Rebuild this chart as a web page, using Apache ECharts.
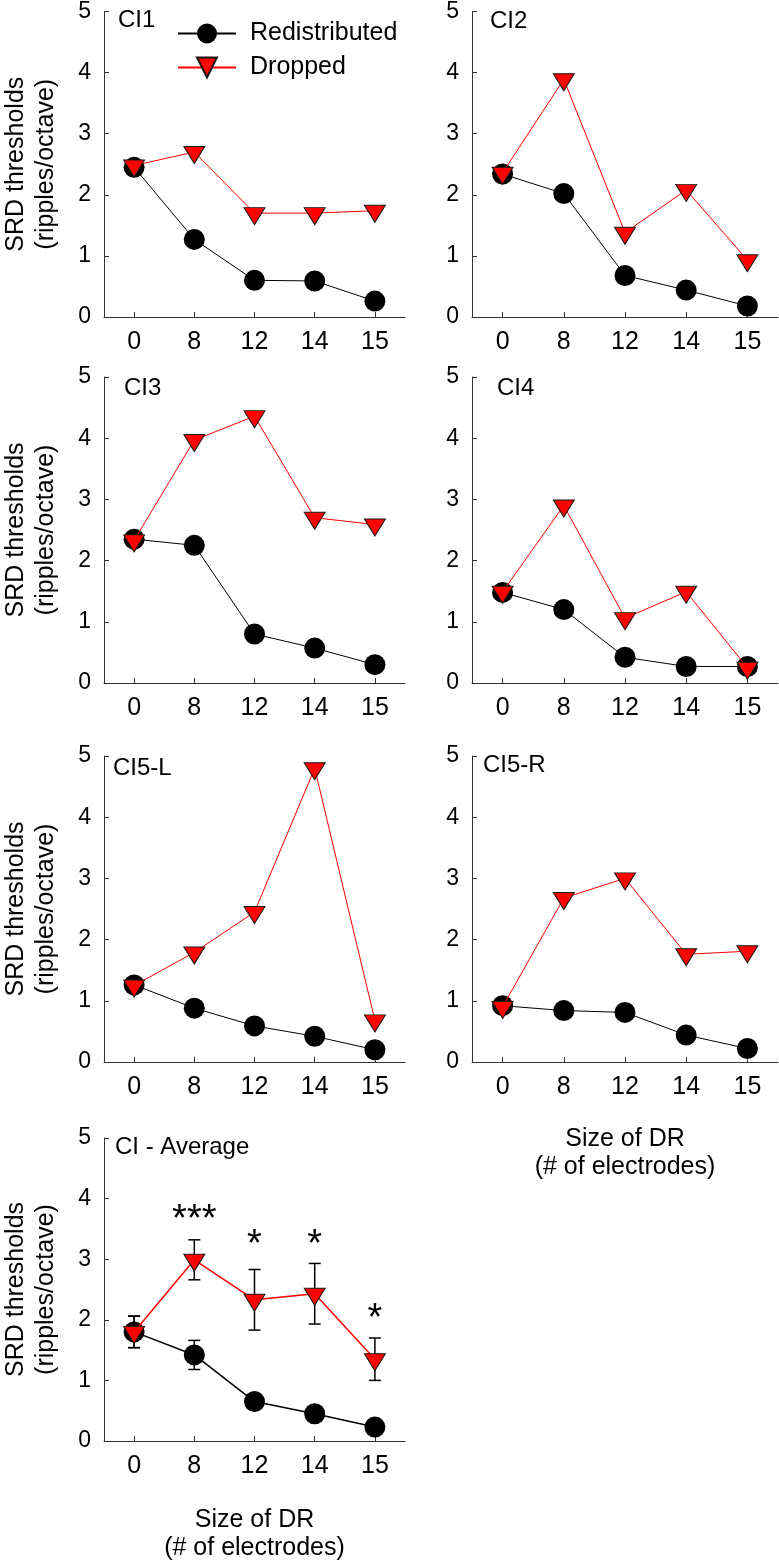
<!DOCTYPE html>
<html>
<head>
<meta charset="utf-8">
<script src="https://cdn.jsdelivr.net/npm/echarts@6/dist/echarts.min.js"></script>
<style>
html,body{margin:0;padding:0;background:#fff;}
#chart{width:779px;height:1563px;}
</style>
</head>
<body>
<div id="chart"></div>
<script>
// ---------- data ----------
const categories = ['0', '8', '12', '14', '15'];
const yTicks = [0, 1, 2, 3, 4, 5];

const panelTitles = ['CI1', 'CI2', 'CI3', 'CI4', 'CI5-L', 'CI5-R', 'CI - Average'];

const ci1Redistributed = [2.45, 1.27, 0.60, 0.59, 0.26];
const ci1Dropped       = [2.48, 2.70, 1.70, 1.70, 1.74];
const ci2Redistributed = [2.34, 2.02, 0.68, 0.44, 0.18];
const ci2Dropped       = [2.36, 3.89, 1.38, 2.08, 0.93];
const ci3Redistributed = [2.35, 2.25, 0.80, 0.57, 0.30];
const ci3Dropped       = [2.33, 3.97, 4.36, 2.70, 2.59];
const ci4Redistributed = [1.48, 1.20, 0.42, 0.27, 0.27];
const ci4Dropped       = [1.49, 2.90, 1.06, 1.49, 0.25];
const ci5LRedistributed = [1.26, 0.88, 0.59, 0.42, 0.20];
const ci5LDropped       = [1.25, 1.79, 2.45, 4.80, 0.68];
const ci5RRedistributed = [0.92, 0.84, 0.81, 0.44, 0.22];
const ci5RDropped       = [0.90, 2.68, 3.00, 1.76, 1.81];
const avgRedistributed    = [1.80, 1.42, 0.65, 0.45, 0.23];
const avgDropped          = [1.80, 2.99, 2.33, 2.43, 1.35];
const avgRedistributedErr = [0.26, 0.24, 0.08, 0.06, 0.05];
const avgDroppedErr       = [0.26, 0.33, 0.50, 0.50, 0.35];
const sigLabels  = ['', '***', '*', '*', '*'];
const sigHeights = [null, 3.78, 3.38, 3.38, 2.16];

// ---------- layout ----------
const FONT = 'Liberation Sans, Arial, Helvetica, sans-serif';
const grids = [
  {left: 100, top: 10,   width: 305, height: 307},
  {left: 472, top: 10,   width: 306, height: 307},
  {left: 100, top: 377,  width: 305, height: 306},
  {left: 472, top: 377,  width: 306, height: 306},
  {left: 100, top: 756,  width: 305, height: 306},
  {left: 472, top: 756,  width: 306, height: 306},
  {left: 100, top: 1138, width: 305, height: 307}
];
const titlePos = [
  [118, 8], [490, 9], [124, 376], [497, 376], [113, 756], [483, 753], [115, 1135]
];
const redisData = [ci1Redistributed, ci2Redistributed, ci3Redistributed, ci4Redistributed, ci5LRedistributed, ci5RRedistributed, avgRedistributed];
const dropData  = [ci1Dropped, ci2Dropped, ci3Dropped, ci4Dropped, ci5LDropped, ci5RDropped, avgDropped];

const AXIS_COLOR = '#333';
const xAxes = [], yAxes = [], series = [], titles = [];

grids.forEach((g, i) => {
  const isLeft = (i % 2 === 0);
  const hasXName = (i === 5 || i === 6);
  xAxes.push({
    type: 'category', gridIndex: i, data: categories, boundaryGap: true,
    axisLine: {show: true, lineStyle: {color: AXIS_COLOR, width: 1}},
    axisTick: {show: true, inside: true, length: 5, alignWithLabel: true, lineStyle: {color: AXIS_COLOR}},
    axisLabel: {show: true, interval: 0, fontSize: 25, color: '#000', fontFamily: FONT, margin: 13},
    splitLine: {show: false},
    name: hasXName ? 'Size of DR\n(# of electrodes)' : '',
    nameLocation: 'middle', nameGap: i === 6 ? 65 : 63,
    nameTextStyle: {fontSize: 25, color: '#000', fontFamily: FONT, lineHeight: 28}
  });
  yAxes.push({
    type: 'value', gridIndex: i, min: yTicks[0], max: yTicks[yTicks.length - 1], interval: 1,
    axisLine: {show: true, lineStyle: {color: AXIS_COLOR, width: 1}},
    axisTick: {show: true, inside: true, length: 5, lineStyle: {color: AXIS_COLOR}},
    axisLabel: {show: true, fontSize: 23, color: '#000', fontFamily: FONT, margin: 13},
    splitLine: {show: false},
    name: isLeft ? 'SRD thresholds\n(ripples/octave)' : '',
    nameLocation: 'middle', nameRotate: 90, nameGap: 43,
    nameTextStyle: {fontSize: 25, color: '#000', fontFamily: FONT, lineHeight: 30}
  });
  titles.push({
    text: panelTitles[i], left: titlePos[i][0], top: titlePos[i][1], padding: 0,
    textStyle: {fontSize: 24, fontWeight: 'normal', color: '#000', fontFamily: FONT}
  });
  const lw = (i === 6) ? 1.5 : 1;
  series.push({
    name: 'Redistributed', type: 'line', xAxisIndex: i, yAxisIndex: i,
    data: redisData[i], symbol: 'circle', symbolSize: 21, z: 3,
    itemStyle: {color: '#000', borderColor: '#000', borderWidth: 0},
    lineStyle: {color: '#000', width: lw},
    emphasis: {disabled: true}
  });
  series.push({
    name: 'Dropped', type: 'line', xAxisIndex: i, yAxisIndex: i,
    data: dropData[i], symbol: 'triangle', symbolRotate: 180, symbolSize: [21, 17], symbolOffset: [0, 3], z: 4,
    itemStyle: {color: '#ff0000', borderColor: '#1a1a1a', borderWidth: 1},
    lineStyle: {color: '#ff0000', width: lw},
    emphasis: {disabled: true}
  });
});

// error bars for the average panel
function errBarSeries(vals, errs) {
  return {
    type: 'custom', xAxisIndex: 6, yAxisIndex: 6, z: 2,
    data: vals.map((v, k) => [k, v, errs[k]]),
    encode: {x: 0, y: 1},
    renderItem: function (params, api) {
      const k = api.value(0), v = api.value(1), e = api.value(2);
      const hi = api.coord([k, v + e]);
      const lo = api.coord([k, v - e]);
      const cw = 6;
      const st = {stroke: '#000', lineWidth: 1.5};
      return {
        type: 'group',
        children: [
          {type: 'line', shape: {x1: hi[0], y1: hi[1], x2: lo[0], y2: lo[1]}, style: st},
          {type: 'line', shape: {x1: hi[0] - cw, y1: hi[1], x2: hi[0] + cw, y2: hi[1]}, style: st},
          {type: 'line', shape: {x1: lo[0] - cw, y1: lo[1], x2: lo[0] + cw, y2: lo[1]}, style: st}
        ]
      };
    }
  };
}
series.push(errBarSeries(avgRedistributed, avgRedistributedErr));
series.push(errBarSeries(avgDropped, avgDroppedErr));

// significance stars
series.push({
  type: 'custom', xAxisIndex: 6, yAxisIndex: 6, z: 5,
  data: sigHeights.map((h, k) => [k, h === null ? 0 : h]),
  encode: {x: 0, y: 1},
  renderItem: function (params, api) {
    const k = params.dataIndex;
    if (!sigLabels[k]) return null;
    const p = api.coord([api.value(0), api.value(1)]);
    return {
      type: 'text',
      style: {text: sigLabels[k], x: p[0], y: p[1] + 9, align: 'center', verticalAlign: 'middle',
              font: '38px ' + FONT, fill: '#000'}
    };
  }
});

const option = {
  animation: false,
  backgroundColor: '#fff',
  title: titles,
  grid: grids,
  xAxis: xAxes,
  yAxis: yAxes,
  legend: {
    data: ['Redistributed', 'Dropped'],
    orient: 'vertical', left: 177, top: 21, padding: 0,
    itemWidth: 58, itemHeight: 25, itemGap: 9,
    selectedMode: false,
    textStyle: {fontSize: 25, color: '#000', fontFamily: FONT, padding: [0, 0, 0, 9]}
  },
  series: series
};

const chart = echarts.init(document.getElementById('chart'), null, {renderer: 'canvas'});
chart.setOption(option);
</script>
</body>
</html>
